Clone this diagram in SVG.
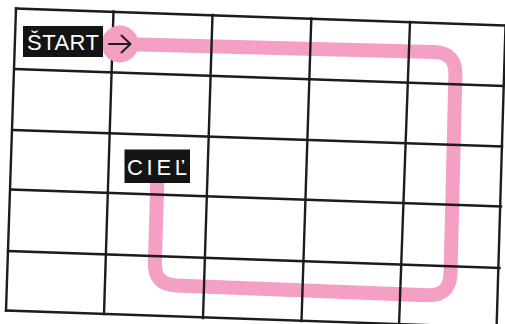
<svg xmlns="http://www.w3.org/2000/svg" width="505" height="324" viewBox="0 0 505 324">
  <style>
    .grid line { stroke: #1c1c1c; stroke-width: 2.4; stroke-linecap: square; }
    .route { fill: none; stroke: #f4a0c4; stroke-width: 14; stroke-linecap: round; stroke-linejoin: round; }
    .tag { fill: #141414; }
    .tagtext { fill: #ffffff; font-family: "Liberation Sans", Arial, sans-serif; font-size: 22px; }
    .arrow { fill: none; stroke: #1e1e1e; stroke-width: 2; stroke-linecap: round; stroke-linejoin: round; }
  </style>
  <rect width="505" height="324" fill="#ffffff"/>

  <g id="connectors">
    <path class="route" d="M120,44 L434,52 Q456,52.6 455.4,74.6 L450.5,274 Q449.5,296.1 427.5,295.2 L176.2,285.5 Q154.2,284.7 154.9,262.7 L157.5,175"/>
  </g>

  <g id="grid" class="grid">
    <line x1="16" y1="8.5" x2="506" y2="25.5"/>
    <line x1="15" y1="69" x2="503" y2="86"/>
    <line x1="13" y1="130" x2="502" y2="146.5"/>
    <line x1="11" y1="189.5" x2="501" y2="206.5"/>
    <line x1="8" y1="251" x2="499.5" y2="268"/>
    <line x1="6" y1="310.5" x2="497" y2="327.5"/>
    <line x1="16" y1="8.5" x2="6" y2="310.5"/>
    <line x1="113.5" y1="11.5" x2="104" y2="314"/>
    <line x1="212.5" y1="15" x2="203" y2="318"/>
    <line x1="311.3" y1="18.5" x2="301.5" y2="321"/>
    <line x1="410" y1="22" x2="399" y2="326"/>
    <line x1="505.5" y1="25.5" x2="496.5" y2="330"/>
  </g>

  <g id="start">
    <circle cx="120" cy="44" r="18.5" fill="#f4a0c4"/>
    <path class="arrow" d="M109,44 H130.5 M121.5,35.5 L130.5,44 L121.5,52.5"/>
    <rect class="tag" x="23" y="26" width="80" height="31"/>
    <text class="tagtext" x="27" y="49.5" textLength="72" lengthAdjust="spacing">ŠTART</text>
  </g>

  <g id="goal">
    <rect class="tag" x="124.5" y="149.5" width="65.5" height="33.5"/>
    <text class="tagtext" x="127" y="175" textLength="60" lengthAdjust="spacing">CIEĽ</text>
  </g>
</svg>
